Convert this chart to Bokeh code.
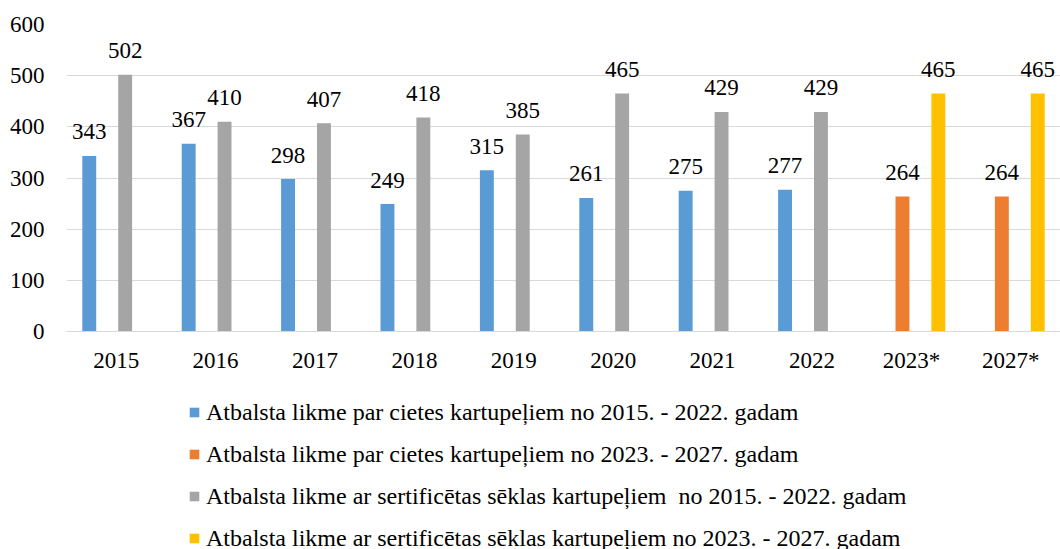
from bokeh.plotting import figure
from bokeh.layouts import column
from bokeh.models import ColumnDataSource, FactorRange, FixedTicker, Legend, LegendItem, Range1d
from bokeh.transform import dodge
from bokeh.core.properties import value
from bokeh.embed import file_html
from bokeh.resources import INLINE

categories = ["2015", "2016", "2017", "2018", "2019", "2020", "2021", "2022", "2023*", "2027*"]
years_hist = ["2015", "2016", "2017", "2018", "2019", "2020", "2021", "2022"]
years_plan = ["2023*", "2027*"]
starch_hist = [343, 367, 298, 249, 315, 261, 275, 277]
starch_plan = [264, 264]
seed_hist = [502, 410, 407, 418, 385, 465, 429, 429]
seed_plan = [465, 465]
y_ticks = [0, 100, 200, 300, 400, 500, 600]
legend_labels = [
    "Atbalsta likme par cietes kartupeļiem no 2015. - 2022. gadam",
    "Atbalsta likme par cietes kartupeļiem no 2023. - 2027. gadam",
    "Atbalsta likme ar sertificētas sēklas kartupeļiem  no 2015. - 2022. gadam",
    "Atbalsta likme ar sertificētas sēklas kartupeļiem no 2023. - 2027. gadam",
]

FONT = "Liberation Serif"
FS = "23px"
colors = ["#5B9BD5", "#ED7D31", "#A5A5A5", "#FFC000"]
offsets = [-0.271, -0.09, 0.09, 0.271]
bar_w = 0.14
W = 1060

p = figure(x_range=FactorRange(factors=categories), y_range=Range1d(0, 600),
           width=W, height=380, output_backend="svg", toolbar_location=None,
           min_border_left=66, min_border_right=0, min_border_top=24, min_border_bottom=49)
p.outline_line_color = None

# legend panel (below the chart); its proxy bars lie far outside its visible y range
p2 = figure(width=W, height=169, output_backend="svg", toolbar_location=None,
            x_range=FactorRange(factors=categories), y_range=Range1d(5000, 5001),
            min_border_left=0, min_border_right=0, min_border_top=0, min_border_bottom=0)
p2.axis.visible = False
p2.grid.grid_line_color = None
p2.outline_line_color = None

series = [
    (years_hist, starch_hist),
    (years_plan, starch_plan),
    (years_hist, seed_hist),
    (years_plan, seed_plan),
]
leg_renderers = []
for (xs, vals), col, off in zip(series, colors, offsets):
    src = ColumnDataSource(dict(x=xs, v=vals, t=[str(v) for v in vals]))
    p.vbar(x=dodge("x", off, range=p.x_range), top="v", width=bar_w, source=src,
           fill_color=col, line_color=None)
    p.text(x=dodge("x", off, range=p.x_range), y="v", text="t", source=src,
           text_align="center", text_baseline="alphabetic", y_offset=-24,
           text_font=value(FONT), text_font_size=FS, text_color="black")
    leg_renderers.append(p2.vbar(x=dodge("x", off, range=p2.x_range), top="v", width=bar_w,
                                 source=src, fill_color=col, line_color=None))

p.xgrid.grid_line_color = None
p.ygrid.ticker = FixedTicker(ticks=y_ticks)
p.ygrid.grid_line_color = "#D9D9D9"
p.ygrid.grid_line_width = 1

p.yaxis.ticker = FixedTicker(ticks=y_ticks)
for ax in (p.xaxis[0], p.yaxis[0]):
    ax.major_tick_in = 0
    ax.major_tick_out = 0
    ax.minor_tick_in = 0
    ax.minor_tick_out = 0
    ax.major_label_text_font = FONT
    ax.major_label_text_font_size = FS
    ax.major_label_text_color = "black"
p.yaxis.axis_line_color = None
p.xaxis.axis_line_color = "#D9D9D9"
p.yaxis.major_label_standoff = 22
p.xaxis.major_label_standoff = 16

items = [LegendItem(label=lab, renderers=[r]) for lab, r in zip(legend_labels, leg_renderers)]
legend = Legend(items=items, location=(122, -3), orientation="vertical",
                padding=0, margin=0, border_line_color=None, background_fill_alpha=0,
                glyph_width=12, glyph_height=12, label_standoff=6,
                label_text_font=FONT, label_text_font_size="24px", label_text_color="black",
                label_height=28, spacing=14)
p2.add_layout(legend, "center")

open("out.html", "w").write(file_html(column(p, p2, spacing=0), INLINE))
